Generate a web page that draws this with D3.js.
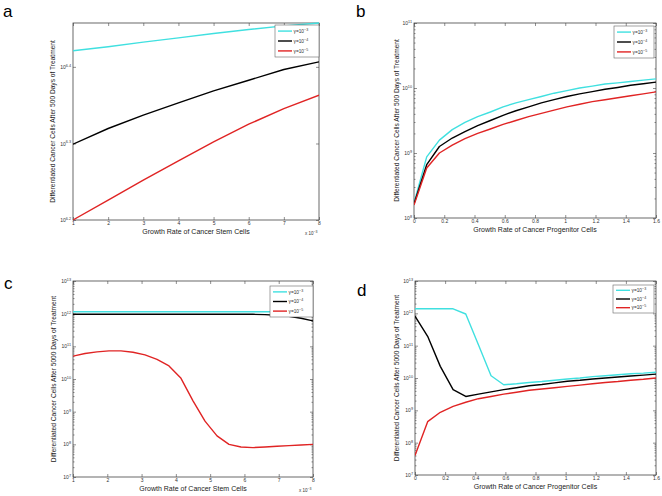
<!DOCTYPE html>
<html><head><meta charset="utf-8">
<script src="https://cdn.jsdelivr.net/npm/d3@7"></script>
<style>body{margin:0;background:#fff}svg{display:block}</style>
</head><body><svg id="c" width="662" height="496"></svg>
<script>
// ---------- DATA ----------
const seriesNames = ["γ=10", "γ=10", "γ=10"];
const seriesExp = ["−3", "−4", "−5"];

// Panel a: x in units of 10^-3
const aX = [1, 2, 3, 4, 5, 6, 7, 8];
const aCyan  = [2.636e6, 2.668e6, 2.706e6, 2.741e6, 2.777e6, 2.810e6, 2.841e6, 2.866e6];
const aBlack = [1.991e6, 2.087e6, 2.173e6, 2.254e6, 2.337e6, 2.413e6, 2.492e6, 2.550e6];
const aRed   = [1.585e6, 1.683e6, 1.787e6, 1.894e6, 2.005e6, 2.114e6, 2.216e6, 2.307e6];
const aYTicks = [1.585e6, 1.995e6, 2.512e6];
const aYTickExp = ["6.2", "6.3", "6.4"];

// Panels b & d x values
const progX = [0, 0.084, 0.168, 0.253, 0.337, 0.421, 0.505, 0.589, 0.674, 0.758,
               0.842, 0.926, 1.011, 1.095, 1.179, 1.263, 1.347, 1.432, 1.516, 1.6];
const bCyan  = [1.70e8, 8.71e8, 1.58e9, 2.29e9, 2.95e9, 3.63e9, 4.27e9, 5.13e9, 5.89e9, 6.61e9,
                7.41e9, 8.32e9, 9.12e9, 1.00e10, 1.07e10, 1.15e10, 1.20e10, 1.26e10, 1.32e10, 1.38e10];
const bBlack = [1.66e8, 6.61e8, 1.26e9, 1.70e9, 2.14e9, 2.63e9, 3.16e9, 3.80e9, 4.47e9, 5.13e9,
                5.89e9, 6.61e9, 7.41e9, 8.13e9, 8.81e9, 9.55e9, 1.02e10, 1.10e10, 1.16e10, 1.23e10];
const bRed   = [1.58e8, 5.89e8, 1.00e9, 1.32e9, 1.66e9, 2.00e9, 2.34e9, 2.75e9, 3.16e9, 3.63e9,
                4.07e9, 4.57e9, 5.13e9, 5.62e9, 6.17e9, 6.61e9, 7.08e9, 7.59e9, 8.13e9, 8.71e9];
const bYTicks = [1e8, 1e9, 1e10, 1e11];
const bYTickExp = ["8", "9", "10", "11"];

// Panel c: x in units of 10^-3
const cX = [1.0, 1.35, 1.7, 2.05, 2.4, 2.75, 3.1, 3.45, 3.8, 4.15, 4.5, 4.85, 5.2, 5.55, 5.9, 6.25, 6.6, 6.95, 7.3, 7.65, 8.0];
const cCyan  = [1.15e12, 1.15e12, 1.15e12, 1.15e12, 1.15e12, 1.15e12, 1.15e12, 1.15e12, 1.15e12, 1.15e12, 1.15e12,
                1.15e12, 1.15e12, 1.15e12, 1.15e12, 1.15e12, 1.15e12, 1.15e12, 1.15e12, 1.15e12, 1.15e12];
const cBlack = [9.55e11, 9.55e11, 9.55e11, 9.55e11, 9.55e11, 9.55e11, 9.55e11, 9.55e11, 9.55e11, 9.55e11, 9.55e11,
                9.55e11, 9.55e11, 9.55e11, 9.55e11, 9.55e11, 9.33e11, 8.91e11, 8.32e11, 7.24e11, 6.03e11];
const cRed   = [5.01e10, 6.03e10, 6.76e10, 7.24e10, 7.24e10, 6.61e10, 5.50e10, 3.98e10, 2.51e10, 1.05e10, 2.14e9,
                5.13e8, 1.82e8, 1.00e8, 8.32e7, 7.94e7, 8.32e7, 8.71e7, 9.12e7, 9.55e7, 1.00e8];
const cdYTicks = [1e7, 1e8, 1e9, 1e10, 1e11, 1e12, 1e13];
const cdYTickExp = ["7", "8", "9", "10", "11", "12", "13"];

// Panel d
const dCyan  = [1.38e12, 1.38e12, 1.38e12, 1.38e12, 9.55e11, 1.07e11, 1.17e10, 6.17e9, 6.61e9, 7.24e9,
                7.76e9, 8.51e9, 9.33e9, 1.00e10, 1.10e10, 1.17e10, 1.26e10, 1.35e10, 1.41e10, 1.51e10];
const dBlack = [8.13e11, 1.95e11, 2.29e10, 4.37e9, 2.69e9, 3.16e9, 3.72e9, 4.37e9, 5.01e9, 5.75e9,
                6.31e9, 7.08e9, 7.94e9, 8.51e9, 9.33e9, 1.00e10, 1.07e10, 1.15e10, 1.23e10, 1.32e10];
const dRed   = [3.98e7, 4.47e8, 8.71e8, 1.32e9, 1.78e9, 2.29e9, 2.69e9, 3.16e9, 3.63e9, 4.17e9,
                4.57e9, 5.01e9, 5.50e9, 6.03e9, 6.61e9, 7.24e9, 7.76e9, 8.51e9, 9.12e9, 1.00e10];

const stemTicks = [1, 2, 3, 4, 5, 6, 7, 8];
const progTicks = [0, 0.2, 0.4, 0.6, 0.8, 1, 1.2, 1.4, 1.6];
const progTickLabels = ["0", "0.2", "0.4", "0.6", "0.8", "1", "1.2", "1.4", "1.6"];

const xLabelStem = "Growth Rate of Cancer Stem Cells";
const xLabelProg = "Growth Rate of Cancer Progenitor Cells";
const yLabel500 = "Differentiated Cancer Cells After 500 Days of Treatment";
const yLabel5000 = "Differentiated Cancer Cells After 5000 Days of Treatment";

// ---------- STYLE ----------
const FONT = "Liberation Sans, Arial, Helvetica, sans-serif";
const colors = ["#40e0e0", "#000000", "#e02424"];
const svg = d3.select("#c");
svg.append("rect").attr("width", 662).attr("height", 496).attr("fill", "#fff");

function supText(sel, base, exp, size) {
  sel.text(null);
  sel.append("tspan").text(base);
  sel.append("tspan").attr("dy", -size * 0.45).attr("font-size", size * 0.75).text(exp);
}

function panel(cfg) {
  const g = svg.append("g");
  const x = d3.scaleLinear().domain(cfg.xDomain).range([cfg.left, cfg.right]);
  const y = d3.scaleLog().domain(cfg.yDomain).range([cfg.bottom, cfg.top]);
  const axisColor = "#444";

  g.append("g").attr("transform", `translate(0,${cfg.bottom})`)
    .call(d3.axisBottom(x).tickValues(cfg.xTicks).tickSize(-3).tickPadding(1.5)
      .tickFormat((d, i) => cfg.xTickLabels[i]));
  g.append("g").attr("transform", `translate(0,${cfg.top})`)
    .call(d3.axisTop(x).tickValues(cfg.xTicks).tickSize(-3).tickFormat(""));
  const ly = g.append("g").attr("transform", `translate(${cfg.left},0)`)
    .call(d3.axisLeft(y).tickValues(cfg.yTicks).tickSize(-3).tickPadding(2).tickFormat(""));
  ly.selectAll(".tick text").each(function (d, i) {
    supText(d3.select(this), "10", cfg.yTickExp[i], 5);
  });
  g.append("g").attr("transform", `translate(${cfg.right},0)`)
    .call(d3.axisRight(y).tickValues(cfg.yTicks).tickSize(-3).tickFormat(""));
  if (cfg.minor) {
    const minor = [];
    for (let i = 0; i < cfg.yTicks.length - 1; i++)
      for (let k = 2; k <= 9; k++) minor.push(cfg.yTicks[i] * k);
    g.append("g").attr("transform", `translate(${cfg.left},0)`)
      .call(d3.axisLeft(y).tickValues(minor).tickSize(-1.5).tickFormat(""));
    g.append("g").attr("transform", `translate(${cfg.right},0)`)
      .call(d3.axisRight(y).tickValues(minor).tickSize(-1.5).tickFormat(""));
  }
  g.selectAll(".domain").remove();
  g.selectAll(".tick line").attr("stroke", axisColor).attr("stroke-width", 0.6);
  g.selectAll(".tick text").attr("font-family", FONT).attr("font-size", 5).attr("fill", "#333");

  g.append("rect").attr("x", cfg.left).attr("y", cfg.top)
    .attr("width", cfg.right - cfg.left).attr("height", cfg.bottom - cfg.top)
    .attr("fill", "none").attr("stroke", axisColor).attr("stroke-width", 0.8);

  const clipId = "clip" + cfg.letter;
  g.append("clipPath").attr("id", clipId).append("rect")
    .attr("x", cfg.left).attr("y", cfg.top - 1)
    .attr("width", cfg.right - cfg.left).attr("height", cfg.bottom - cfg.top + 2);
  const line = d3.line().x(d => x(d[0])).y(d => y(d[1]));
  cfg.series.forEach((s, i) => {
    g.append("path").attr("clip-path", `url(#${clipId})`)
      .datum(cfg.xs.map((v, j) => [v, s[j]]))
      .attr("d", line).attr("fill", "none").attr("stroke", colors[i])
      .attr("stroke-width", 1.4).attr("stroke-linejoin", "round");
  });

  g.append("text").attr("x", (cfg.left + cfg.right) / 2).attr("y", cfg.xLabelY)
    .attr("text-anchor", "middle").attr("font-family", FONT).attr("font-size", 7)
    .attr("fill", "#222").text(cfg.xLabel);
  g.append("text").attr("transform", `translate(${cfg.yLabelX},${(cfg.top + cfg.bottom) / 2}) rotate(-90)`)
    .attr("text-anchor", "middle").attr("font-family", FONT).attr("font-size", 6.6)
    .attr("fill", "#222").text(cfg.yLabel);
  if (cfg.mult) {
    const t = g.append("text").attr("x", cfg.right - 14).attr("y", cfg.bottom + 15)
      .attr("font-family", FONT).attr("font-size", 4.5).attr("fill", "#333");
    t.append("tspan").text("x 10");
    t.append("tspan").attr("dy", -2).attr("font-size", 3.5).text("−3");
  }
  g.append("text").attr("x", cfg.letterX).attr("y", cfg.letterY)
    .attr("font-family", FONT).attr("font-size", 17).attr("fill", "#000").text(cfg.letter);

  const L = cfg.legend;
  const lg = g.append("g");
  lg.append("rect").attr("x", L.x).attr("y", L.y).attr("width", L.w).attr("height", L.h)
    .attr("fill", "#fff").attr("stroke", "#666").attr("stroke-width", 0.6);
  seriesNames.forEach((n, i) => {
    const yy = L.y + L.h * (0.19 + 0.31 * i);
    lg.append("line").attr("x1", L.x + 3).attr("x2", L.x + 17).attr("y1", yy).attr("y2", yy)
      .attr("stroke", colors[i]).attr("stroke-width", 1.4);
    const t = lg.append("text").attr("x", L.x + 18.5).attr("y", yy + 1.8)
      .attr("font-family", FONT).attr("font-size", 4.8).attr("fill", "#333");
    t.append("tspan").text(n);
    t.append("tspan").attr("dy", -2).attr("font-size", 3.6).text(seriesExp[i]);
  });
}

panel({letter: "a", letterX: 3, letterY: 17, left: 73, top: 23, right: 319, bottom: 220,
  xDomain: [1, 8], xTicks: stemTicks, xTickLabels: stemTicks.map(String),
  yDomain: [aRed[0], aCyan[aCyan.length - 1]], yTicks: aYTicks, yTickExp: aYTickExp, minor: false,
  xs: aX, series: [aCyan, aBlack, aRed], xLabel: xLabelStem, xLabelY: 234, yLabel: yLabel500, yLabelX: 55,
  mult: true, legend: {x: 275, y: 25, w: 44, h: 32}});

panel({letter: "b", letterX: 356, letterY: 17, left: 414, top: 23, right: 656, bottom: 218,
  xDomain: [0, 1.6], xTicks: progTicks, xTickLabels: progTickLabels,
  yDomain: [1e8, 1e11], yTicks: bYTicks, yTickExp: bYTickExp, minor: true,
  xs: progX, series: [bCyan, bBlack, bRed], xLabel: xLabelProg, xLabelY: 232, yLabel: yLabel500, yLabelX: 399,
  mult: false, legend: {x: 614, y: 26, w: 40, h: 32}});

panel({letter: "c", letterX: 4, letterY: 289, left: 73, top: 281, right: 313, bottom: 477,
  xDomain: [1, 8], xTicks: stemTicks, xTickLabels: stemTicks.map(String),
  yDomain: [1e7, 1e13], yTicks: cdYTicks, yTickExp: cdYTickExp, minor: true,
  xs: cX, series: [cCyan, cBlack, cRed], xLabel: xLabelStem, xLabelY: 491, yLabel: yLabel5000, yLabelX: 56,
  mult: true, legend: {x: 270, y: 286, w: 43, h: 31}});

panel({letter: "d", letterX: 357, letterY: 296, left: 415, top: 281, right: 656, bottom: 475,
  xDomain: [0, 1.6], xTicks: progTicks, xTickLabels: progTickLabels,
  yDomain: [1e7, 1e13], yTicks: cdYTicks, yTickExp: cdYTickExp, minor: true,
  xs: progX, series: [dCyan, dBlack, dRed], xLabel: xLabelProg, xLabelY: 489, yLabel: yLabel5000, yLabelX: 399,
  mult: false, legend: {x: 613, y: 285, w: 41, h: 28}});
</script></body></html>
